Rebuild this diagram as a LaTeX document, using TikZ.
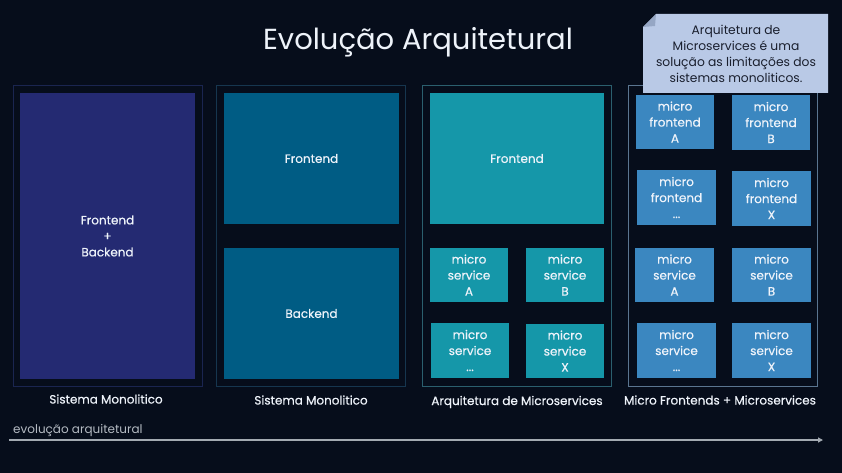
\documentclass[tikz,border=0pt]{standalone}
\usepackage{fontspec}
\setmainfont{Poppins}
\newfontfamily\medfont{Poppins}[FakeBold=0.5]
\usetikzlibrary{arrows.meta}
\definecolor{bg}{HTML}{060D1B}
\definecolor{frA}{HTML}{1A2550}
\definecolor{frB}{HTML}{16364F}
\definecolor{frC}{HTML}{2B5F6E}
\definecolor{frD}{HTML}{5A7590}
\definecolor{fillA}{HTML}{242A72}
\definecolor{fillB}{HTML}{005C84}
\definecolor{fillC}{HTML}{1597A9}
\definecolor{fillD}{HTML}{3B87C0}
\definecolor{calloutfill}{HTML}{B9C9E6}
\definecolor{calloutfold}{HTML}{95A6C4}
\definecolor{callouttext}{HTML}{1A1F2E}
\definecolor{txt}{HTML}{EEF3FA}
\definecolor{graytxt}{HTML}{B4BAC2}
\definecolor{arrowgray}{HTML}{A3AAB2}
\tikzset{
  frame/.style={draw=#1, line width=0.8pt, fill=none, inner sep=0pt, outer sep=0pt, anchor=north west, minimum width=189pt, minimum height=301pt},
  blk/.style={fill=#1, draw=none, inner sep=0pt, outer sep=0pt, anchor=north west, text=txt, align=center, font=\medfont\fontsize{12}{16}\selectfont},
  caption/.style={text=txt, font=\medfont\fontsize{12}{14}\selectfont, inner sep=0pt},
}
\begin{document}
\begin{tikzpicture}[x=1pt,y=-1pt]
\fill[bg] (0,0) rectangle (842,473);
\useasboundingbox (0,0) rectangle (842,473);

% title
\node[text=txt, font=\fontsize{29}{34}\selectfont, inner sep=0pt] (title) at (418,42) {Evolução Arquitetural};

% frames
\node[frame=frA] (f1) at (13,85) {};
\node[frame=frB] (f2) at (216,85) {};
\node[frame=frC] (f3) at (422,85) {};
\node[frame=frD] (f4) at (628,85) {};

% column 1
\node[blk=fillA, minimum width=175pt, minimum height=286pt] (mono) at (20,93) {Frontend\\+\\Backend};

% column 2
\node[blk=fillB, minimum width=175pt, minimum height=131pt] (fe2) at (224,93) {Frontend};
\node[blk=fillB, minimum width=175pt, minimum height=131pt] (be2) at (224,248) {Backend};

% column 3
\node[blk=fillC, minimum width=174pt, minimum height=131pt] (fe3) at (430,93) {Frontend};
\node[blk=fillC, minimum width=78pt, minimum height=54pt] (ms3a) at (430,248) {micro\\service\\A};
\node[blk=fillC, minimum width=78pt, minimum height=54pt] (ms3b) at (526,248) {micro\\service\\B};
\node[blk=fillC, minimum width=78pt, minimum height=55pt] (ms3c) at (431,323) {micro\\service\\...};
\node[blk=fillC, minimum width=78pt, minimum height=54pt] (ms3x) at (526,324) {micro\\service\\X};

% column 4
\node[blk=fillD, minimum width=78pt, minimum height=54pt] (mfa) at (636,95) {micro\\frontend\\A};
\node[blk=fillD, minimum width=78pt, minimum height=55pt] (mfb) at (732,95) {micro\\frontend\\B};
\node[blk=fillD, minimum width=79pt, minimum height=55pt] (mfc) at (637,170) {micro\\frontend\\...};
\node[blk=fillD, minimum width=79pt, minimum height=55pt] (mfx) at (732,171) {micro\\frontend\\X};
\node[blk=fillD, minimum width=79pt, minimum height=54pt] (ms4a) at (635,248) {micro\\service\\A};
\node[blk=fillD, minimum width=79pt, minimum height=54pt] (ms4b) at (732,248) {micro\\service\\B};
\node[blk=fillD, minimum width=79pt, minimum height=55pt] (ms4c) at (637,323) {micro\\service\\...};
\node[blk=fillD, minimum width=79pt, minimum height=55pt] (ms4x) at (732,323) {micro\\service\\X};

% captions
\node[caption] (c1) at (106,399) {Sistema Monolitico};
\node[caption] (c2) at (311,400) {Sistema Monolitico};
\node[caption] (c3) at (517,402) {Arquitetura de Microservices};
\node[caption] (c4) at (720,400) {Micro Frontends + Microservices};

% evolution arrow
\node[text=graytxt, font=\fontsize{12}{14}\selectfont, inner sep=0pt, anchor=west] (evo) at (13,430) {evolução arquitetural};
\coordinate (as) at (9,440);
\coordinate (ae) at (823,440);
\draw[arrowgray, line width=1.6pt, -{Triangle[length=5pt,width=5pt]}] (as) -- (ae);

% callout
\fill[calloutfill] (656,14) -- (828,14) -- (828,93) -- (643,93) -- (643,27) -- cycle;
\fill[calloutfold] (643,27) -- (656,14) -- (655,26) -- cycle;
\node[text=callouttext, align=center, font=\fontsize{12.3}{16}\selectfont, inner sep=0pt] (note) at (736,54) {Arquitetura de\\Microservices é uma\\solução as limitações dos\\sistemas monoliticos.};
\end{tikzpicture}
\end{document}
